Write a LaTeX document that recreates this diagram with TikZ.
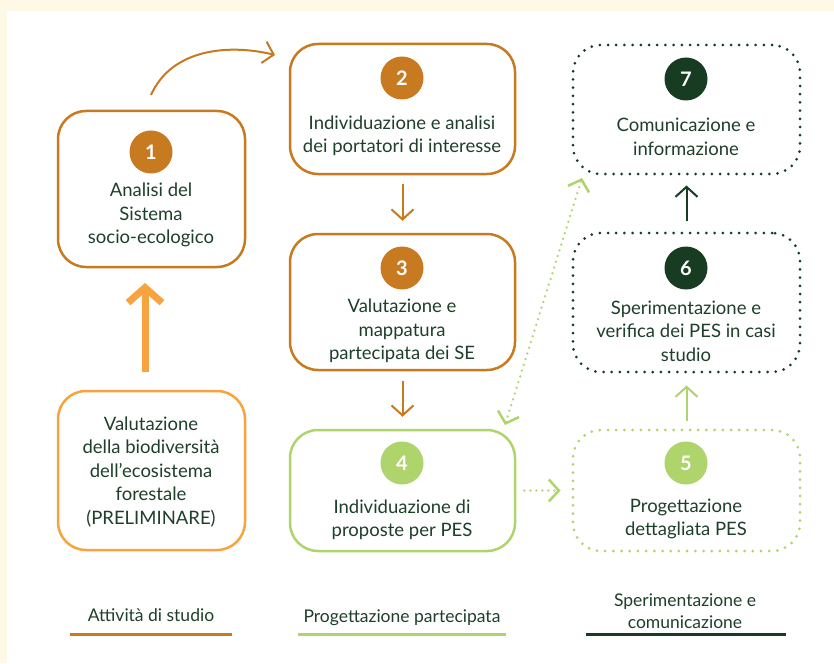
\documentclass[tikz,border=0pt]{standalone}
\usepackage{fontspec}
\setmainfont{Lato}
\usetikzlibrary{arrows.meta}
\definecolor{brn}{HTML}{C77A1F}
\definecolor{org}{HTML}{F7A440}
\definecolor{lgr}{HTML}{AED46B}
\definecolor{dgr}{HTML}{183C22}
\definecolor{txt}{HTML}{1E3F2A}
\definecolor{crm}{HTML}{FEF8E7}
\tikzset{
  tipS/.tip={Straight Barb[length=10pt,width=22pt,line cap=butt]},
  box/.style={draw, rounded corners=28pt, line width=2.5pt, inner sep=0pt},
  dotbox/.style={box, dash pattern=on 0pt off 8.2pt, line cap=round, line width=3pt},
  num/.style={circle, minimum size=43pt, inner sep=0pt, text=white, font=\fontsize{20}{20}\selectfont\bfseries},
  lbl/.style={text=txt, align=center, font=\fontsize{18.5}{23.5}\selectfont},
  leg/.style={text=txt, align=center, font=\fontsize{17.5}{22}\selectfont},
  arr/.style={line width=2pt, -{Straight Barb[length=10pt,width=22pt]}},
  dotarr/.style={line width=2.5pt, dash pattern=on 0pt off 6pt, line cap=round},
  legline/.style={line width=3pt}
}
\begin{document}
\begin{tikzpicture}[x=1pt,y=-1pt]
\fill[crm] (0,0) rectangle (834,663);
\fill[white] (7,11) rectangle (834,663);
\useasboundingbox (0,0) rectangle (834,663);

% boxes
\node[box, draw=brn, minimum width=187pt, minimum height=156pt] (b1) at (151.5,189) {};
\node[box, draw=org, minimum width=187pt, minimum height=159pt] (b0) at (151.5,470.5) {};
\node[box, draw=brn, minimum width=225pt, minimum height=130pt] (b2) at (402.5,109) {};
\node[box, draw=brn, minimum width=225pt, minimum height=136pt] (b3) at (402.5,302) {};
\node[box, draw=lgr, minimum width=225pt, minimum height=121pt] (b4) at (402.5,490.5) {};
\node[dotbox, draw=lgr, minimum width=227pt, minimum height=121pt] (b5) at (686.5,490.5) {};
\node[dotbox, draw=dgr, minimum width=227pt, minimum height=139pt] (b6) at (686.5,302.5) {};
\node[dotbox, draw=dgr, minimum width=227pt, minimum height=129pt] (b7) at (686.5,109.5) {};

% numbers
\node[num, fill=brn] (n1) at (151,152) {1};
\node[num, fill=brn] (n2) at (402,78) {2};
\node[num, fill=brn] (n3) at (402,268) {3};
\node[num, fill=lgr] (n4) at (402,463) {4};
\node[num, fill=lgr] (n5) at (686,463) {5};
\node[num, fill=dgr] (n6) at (686,268) {6};
\node[num, fill=dgr] (n7) at (686,79) {7};

% texts
\node[lbl] (t1) at (151,215) {Analisi del\\Sistema\\socio-ecologico};
\node[lbl] (t0) at (151,472) {Valutazione\\della biodiversità\\dell’ecosistema\\forestale\\(PRELIMINARE)};
\node[lbl] (t2) at (402,136) {Individuazione e analisi\\dei portatori di interesse};
\node[lbl] (t3) at (402,331) {Valutazione e\\mappatura\\partecipata dei SE};
\node[lbl] (t4) at (402,520) {Individuazione di\\proposte per PES};
\node[lbl] (t5) at (686,519) {Progettazione\\dettagliata PES};
\node[lbl] (t6) at (686,331) {Sperimentazione e\\verifica dei PES in casi\\studio};
\node[lbl] (t7) at (686,137) {Comunicazione e\\informazione};

% connectors
\coordinate (a0s) at (145,372);
\coordinate (a0e) at (145,283);
\draw[org, line width=7pt, -{Straight Barb[length=15pt,width=34pt]}] (a0s) -- (a0e);
\coordinate (c1s) at (151,95);
\coordinate (c1e) at (275,55);
\draw[brn, arr] (c1s) .. controls (172,48) and (230,44) .. (c1e);
\draw[brn, arr] ([yshift=-9pt]b2.south) -- ([yshift=12pt]b3.north);
\draw[brn, arr] ([yshift=-10pt]b3.south) -- ([yshift=12pt]b4.north);
\coordinate (d4) at (505,425);
\coordinate (d7) at (582,178);
\draw[lgr, dotarr, {tipS}-{tipS}] (d4) -- (d7);
\draw[lgr, dotarr, -{tipS}] ([xshift=8pt]b4.east) -- ([xshift=-11pt]b5.west);
\draw[lgr, arr] ([yshift=8pt]b5.north) -- ([yshift=-12pt]b6.south);
\draw[dgr, arr] ([yshift=11pt]b6.north) -- ([yshift=-10pt]b7.south);

% legend
\node[leg] (l1) at (151,615) {Attività di studio};
\node[leg] (l2) at (402,618) {Progettazione partecipata};
\node[leg] (l3) at (685,611) {Sperimentazione e\\comunicazione};
\coordinate (l1a) at (70,634); \coordinate (l1b) at (232,634);
\coordinate (l2a) at (298,634); \coordinate (l2b) at (506,634);
\coordinate (l3a) at (586,634); \coordinate (l3b) at (786,634);
\draw[brn, legline] (l1a) -- (l1b);
\draw[lgr, legline] (l2a) -- (l2b);
\draw[dgr, legline] (l3a) -- (l3b);
\end{tikzpicture}
\end{document}
